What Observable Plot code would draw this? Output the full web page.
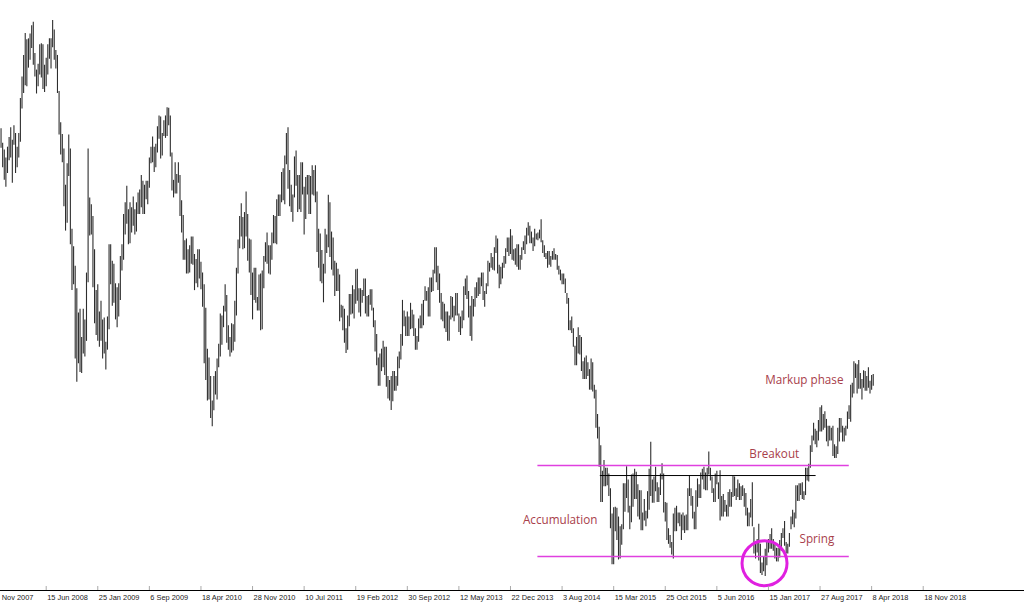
<!DOCTYPE html>
<html><head><meta charset="utf-8">
<script src="https://cdn.jsdelivr.net/npm/d3@7"></script>
<script src="https://cdn.jsdelivr.net/npm/@observablehq/plot@0.6"></script>
<style>
html,body{margin:0;padding:0;background:#fff;}
#chart svg{display:block;}
</style></head><body><div id="chart"></div>
<script>
// Weekly EUR/USD bars (week starting Sunday), first week:
const firstWeek = "2007-12-02";

// Weekly highs, by calendar year of week start
const high = [
  // 2007
  1.493,1.478,1.471,1.463,1.474,
  // 2008
  1.484,1.494,1.481,1.496,1.488,1.474,1.488,1.524,1.546,1.568,
  1.5905,1.584,1.585,1.590,1.5985,1.6019,1.570,1.553,1.559,1.579,
  1.580,1.579,1.558,1.565,1.579,1.585,1.585,1.6038,1.594,1.573,
  1.568,1.531,1.499,1.487,1.472,1.435,1.457,1.4865,1.472,1.390,
  1.372,1.352,1.329,1.304,1.308,1.279,1.308,1.297,1.345,1.472,
  1.422,1.415,
  // 2009
  1.403,1.369,1.327,1.333,1.305,1.316,1.297,1.299,1.274,1.300,
  1.374,1.374,1.357,1.354,1.334,1.330,1.334,1.362,1.374,1.405,
  1.417,1.434,1.410,1.417,1.412,1.423,1.410,1.417,1.427,1.430,
  1.445,1.439,1.435,1.439,1.439,1.463,1.474,1.4845,1.474,1.477,
  1.495,1.506,1.505,1.488,1.501,1.506,1.5145,1.514,1.506,1.468,
  1.440,1.458,
  // 2010
  1.446,1.458,1.445,1.419,1.404,1.378,1.380,1.369,1.373,1.382,
  1.382,1.364,1.359,1.369,1.369,1.356,1.345,1.333,1.309,1.267,
  1.258,1.239,1.214,1.239,1.244,1.257,1.272,1.303,1.301,1.311,
  1.333,1.322,1.291,1.279,1.293,1.292,1.316,1.350,1.379,1.403,
  1.416,1.402,1.407,1.428,1.405,1.380,1.379,1.345,1.350,1.350,
  1.320,1.343,
  // 2011
  1.344,1.347,1.362,1.376,1.386,1.373,1.373,1.386,1.404,1.403,
  1.420,1.425,1.425,1.448,1.452,1.465,1.488,1.494,1.450,1.435,
  1.425,1.464,1.470,1.445,1.445,1.458,1.458,1.433,1.443,1.445,
  1.445,1.444,1.455,1.450,1.455,1.428,1.390,1.385,1.368,1.354,
  1.390,1.384,1.4247,1.417,1.387,1.381,1.357,1.355,1.349,1.343,
  1.312,1.311,
  // 2012
  1.308,1.288,1.301,1.323,1.323,1.332,1.328,1.3485,1.349,1.329,
  1.329,1.327,1.339,1.339,1.321,1.322,1.328,1.328,1.309,1.296,
  1.282,1.258,1.262,1.267,1.275,1.269,1.269,1.239,1.235,1.239,
  1.244,1.244,1.239,1.259,1.264,1.282,1.317,1.306,1.300,1.305,
  1.300,1.314,1.307,1.302,1.288,1.280,1.298,1.301,1.313,1.317,
  1.331,1.326,1.330,
  // 2013
  1.340,1.340,1.348,1.371,1.371,1.352,1.344,1.324,1.315,1.313,
  1.305,1.305,1.301,1.321,1.320,1.311,1.324,1.324,1.303,1.300,
  1.306,1.331,1.339,1.342,1.326,1.311,1.321,1.318,1.330,1.335,
  1.340,1.340,1.345,1.345,1.326,1.334,1.357,1.355,1.365,1.361,
  1.371,1.383,1.380,1.353,1.351,1.355,1.362,1.370,1.381,1.381,
  1.3895,1.383,
  // 2014
  1.369,1.370,1.374,1.374,1.363,1.371,1.377,1.383,1.391,1.3965,
  1.393,1.387,1.381,1.390,1.385,1.386,1.389,1.3995,1.378,1.373,
  1.365,1.367,1.367,1.362,1.367,1.370,1.364,1.363,1.352,1.348,
  1.344,1.344,1.339,1.324,1.319,1.296,1.300,1.288,1.270,1.279,
  1.289,1.281,1.279,1.254,1.258,1.260,1.253,1.246,1.257,1.253,
  1.230,1.225,
  // 2015
  1.200,1.187,1.168,1.142,1.153,1.145,1.145,1.139,1.124,1.098,
  1.1045,1.105,1.104,1.095,1.085,1.087,1.129,1.129,1.1465,1.133,
  1.106,1.138,1.139,1.144,1.141,1.128,1.122,1.122,1.099,1.113,
  1.101,1.121,1.144,1.1715,1.133,1.136,1.146,1.130,1.125,1.139,
  1.1495,1.139,1.110,1.109,1.083,1.076,1.069,1.098,1.104,1.106,
  1.099,1.099,
  // 2016
  1.097,1.099,1.096,1.097,1.124,1.1375,1.124,1.116,1.100,1.122,
  1.134,1.128,1.140,1.144,1.146,1.140,1.145,1.1615,1.145,1.136,
  1.124,1.139,1.142,1.130,1.1425,1.116,1.118,1.112,1.107,1.120,
  1.123,1.120,1.1365,1.136,1.124,1.133,1.129,1.126,1.127,1.124,
  1.119,1.104,1.099,1.113,1.130,1.084,1.067,1.072,1.0875,1.067,
  1.048,1.054,
  // 2017
  1.062,1.069,1.072,1.077,1.083,1.072,1.068,1.063,1.063,1.071,
  1.078,1.083,1.0905,1.069,1.067,1.078,1.095,1.102,1.099,1.127,
  1.127,1.129,1.129,1.130,1.121,1.145,1.145,1.149,1.168,1.178,
  1.191,1.185,1.183,1.194,1.207,1.209,1.200,1.203,1.195,1.188,
  1.188,1.186,1.188,1.169,1.167,1.186,1.196,1.196,1.188,1.186,
  1.188,1.2025,1.209,
  // 2018
  1.230,1.232,1.254,1.252,1.251,1.2555,1.242,1.236,1.245,1.244,
  1.239,1.248,1.234,1.240,1.241
];

// Weekly lows, same weeks
const low = [
  // 2007
  1.473,1.453,1.440,1.433,1.447,
  // 2008
  1.460,1.463,1.437,1.476,1.447,1.453,1.463,1.479,1.513,1.529,
  1.537,1.536,1.555,1.563,1.575,1.558,1.546,1.5285,1.536,1.548,
  1.545,1.533,1.530,1.536,1.548,1.564,1.554,1.576,1.563,1.554,
  1.529,1.4865,1.466,1.458,1.413,1.388,1.396,1.444,1.374,1.327,
  1.333,1.257,1.233,1.252,1.243,1.242,1.262,1.259,1.275,1.335,
  1.383,1.384,
  // 2009
  1.330,1.293,1.281,1.275,1.269,1.275,1.257,1.262,1.2457,1.266,
  1.287,1.333,1.311,1.314,1.297,1.289,1.300,1.317,1.347,1.358,
  1.384,1.395,1.374,1.375,1.386,1.393,1.384,1.387,1.405,1.405,
  1.412,1.405,1.405,1.420,1.415,1.432,1.457,1.458,1.448,1.453,
  1.468,1.482,1.462,1.465,1.485,1.483,1.485,1.496,1.464,1.429,
  1.422,1.426,
  // 2010
  1.426,1.437,1.403,1.386,1.358,1.358,1.344,1.344,1.345,1.354,
  1.353,1.327,1.334,1.330,1.339,1.328,1.310,1.252,1.235,1.214,
  1.215,1.196,1.1876,1.204,1.220,1.215,1.248,1.259,1.271,1.289,
  1.305,1.273,1.266,1.259,1.263,1.265,1.274,1.301,1.344,1.370,
  1.382,1.369,1.370,1.382,1.357,1.345,1.322,1.297,1.317,1.314,
  1.306,1.306,
  // 2011
  1.286,1.287,1.329,1.356,1.354,1.344,1.343,1.358,1.375,1.375,
  1.374,1.403,1.403,1.417,1.419,1.415,1.456,1.431,1.413,1.407,
  1.397,1.422,1.434,1.407,1.410,1.407,1.425,1.384,1.400,1.425,
  1.405,1.405,1.425,1.424,1.417,1.366,1.350,1.336,1.334,1.3145,
  1.344,1.365,1.371,1.361,1.348,1.342,1.321,1.326,1.326,1.295,
  1.299,1.286,
  // 2012
  1.273,1.2625,1.266,1.290,1.302,1.303,1.298,1.313,1.316,1.304,
  1.300,1.314,1.321,1.303,1.300,1.300,1.312,1.306,1.289,1.264,
  1.250,1.229,1.229,1.244,1.248,1.240,1.228,1.216,1.214,1.2042,
  1.213,1.224,1.224,1.229,1.247,1.256,1.270,1.290,1.280,1.280,
  1.280,1.287,1.288,1.280,1.266,1.266,1.274,1.288,1.288,1.291,
  1.316,1.316,1.300,
  // 2013
  1.300,1.325,1.326,1.344,1.335,1.327,1.314,1.297,1.295,1.288,
  1.284,1.275,1.275,1.297,1.299,1.295,1.301,1.301,1.284,1.281,
  1.288,1.296,1.322,1.318,1.299,1.280,1.275,1.300,1.310,1.319,
  1.321,1.323,1.331,1.317,1.310,1.323,1.331,1.346,1.350,1.348,
  1.347,1.365,1.344,1.329,1.333,1.339,1.350,1.354,1.366,1.362,
  1.364,1.358,
  // 2014
  1.357,1.353,1.351,1.348,1.348,1.358,1.368,1.364,1.374,1.383,
  1.375,1.375,1.367,1.372,1.379,1.378,1.380,1.376,1.365,1.361,
  1.359,1.350,1.353,1.351,1.358,1.358,1.358,1.348,1.343,1.337,
  1.333,1.333,1.324,1.313,1.286,1.286,1.283,1.269,1.250,1.250,
  1.262,1.261,1.244,1.236,1.236,1.236,1.239,1.225,1.225,1.223,
  1.216,1.186,
  // 2015
  1.175,1.146,1.110,1.110,1.126,1.126,1.127,1.116,1.083,1.046,
  1.046,1.080,1.071,1.051,1.052,1.066,1.082,1.100,1.114,1.099,
  1.082,1.089,1.105,1.113,1.113,1.095,1.092,1.081,1.081,1.091,
  1.085,1.093,1.102,1.116,1.109,1.109,1.121,1.110,1.110,1.117,
  1.133,1.099,1.090,1.071,1.067,1.063,1.056,1.052,1.080,1.080,
  1.088,1.085,
  // 2016
  1.071,1.081,1.078,1.081,1.081,1.116,1.106,1.093,1.082,1.082,
  1.105,1.114,1.114,1.133,1.123,1.122,1.122,1.138,1.132,1.119,
  1.110,1.110,1.128,1.113,1.091,1.095,1.095,1.100,1.095,1.095,
  1.105,1.105,1.115,1.116,1.112,1.115,1.112,1.112,1.116,1.105,
  1.096,1.085,1.085,1.094,1.085,1.057,1.052,1.058,1.050,1.037,
  1.035,1.039,
  // 2017
  1.034,1.045,1.058,1.062,1.062,1.060,1.052,1.049,1.049,1.053,
  1.060,1.073,1.065,1.057,1.057,1.064,1.082,1.087,1.084,1.093,
  1.111,1.111,1.117,1.113,1.112,1.117,1.132,1.131,1.145,1.161,
  1.173,1.169,1.166,1.173,1.182,1.182,1.184,1.186,1.172,1.167,
  1.173,1.173,1.157,1.155,1.155,1.159,1.172,1.181,1.172,1.172,
  1.178,1.185,1.195,
  // 2018
  1.192,1.217,1.221,1.237,1.221,1.226,1.226,1.215,1.227,1.224,
  1.224,1.227,1.221,1.225,1.229
];

// x-axis tick labels (every 32 weeks)
const tickDates = ["2007-11-04","2008-06-15","2009-01-25","2009-09-06","2010-04-18",
  "2010-11-28","2011-07-10","2012-02-19","2012-09-30","2013-05-12","2013-12-22",
  "2014-08-03","2015-03-15","2015-10-25","2016-06-05","2017-01-15","2017-08-27",
  "2018-04-08","2018-11-18"];

// Annotations (in data coordinates)
const rangeLines = [
  {from: "2014-04-20", to: "2018-01-01", price: 1.1478},
  {from: "2014-04-20", to: "2018-01-01", price: 1.0545}
];
const blackLine = [{from: "2015-01-16", to: "2017-08-10", price: 1.1375}];
const springMark = [{date: "2016-12-29", price: 1.0476}];
const notes = [
  {label: "Breakout", date: "2016-10-24", price: 1.1597},
  {label: "Accumulation", date: "2014-02-14", price: 1.0914},
  {label: "Spring", date: "2017-05-30", price: 1.0719},
  {label: "Markup phase", date: "2017-01-01", price: 1.2349}
];

if (high.length !== low.length) console.error("length mismatch", high.length, low.length);

const start = new Date(firstWeek + "T00:00:00Z");
const bars = high.map((h, i) => ({date: d3.utcDay.offset(start, 7 * i), high: h, low: low[i]}));
const D = s => new Date(s + "T00:00:00Z");
const ticks = tickDates.map(D);

const chart = Plot.plot({
  width: 1024,
  height: 603,
  marginTop: 0,
  marginBottom: 13,
  marginLeft: 0,
  marginRight: 0,
  style: {background: "#fff", overflow: "visible"},
  x: {type: "utc", domain: [new Date("2007-11-29T15:00:00Z"), new Date("2020-01-31T19:00:00Z")], axis: null},
  y: {domain: [1.0197, 1.6243], axis: null},
  marks: [
    Plot.ruleX(bars, {x: "date", y1: "low", y2: "high", stroke: "#2e2e2e", strokeWidth: 1.1}),
    Plot.ruleY(rangeLines, {y: "price", x1: d => D(d.from), x2: d => D(d.to), stroke: "#e040e0", strokeWidth: 1.5}),
    Plot.ruleY(blackLine, {y: "price", x1: d => D(d.from), x2: d => D(d.to), stroke: "#000", strokeWidth: 1}),
    Plot.dot(springMark, {x: d => D(d.date), y: "price", r: 22.5, stroke: "#e020e0", strokeWidth: 3, fill: "none"}),
    Plot.text(notes, {x: d => D(d.date), y: "price", text: "label", textAnchor: "start", fill: "#a8404a", fontSize: 11.7, fontFamily: "Open Sans"}),
    Plot.frame({anchor: "bottom", stroke: "#000"}),
    Plot.axisX({ticks, tickSize: -4, tickFormat: () => "", stroke: "#aaa"}),
    Plot.axisX({ticks, tickSize: 0, tickPadding: 4, tickFormat: d3.utcFormat("%-d %b %Y"), textAnchor: "start", dx: 1, fontSize: 7.4, fontFamily: "Liberation Sans", fill: "#222"})
  ]
});
document.getElementById("chart").appendChild(chart);
</script>
</body></html>
